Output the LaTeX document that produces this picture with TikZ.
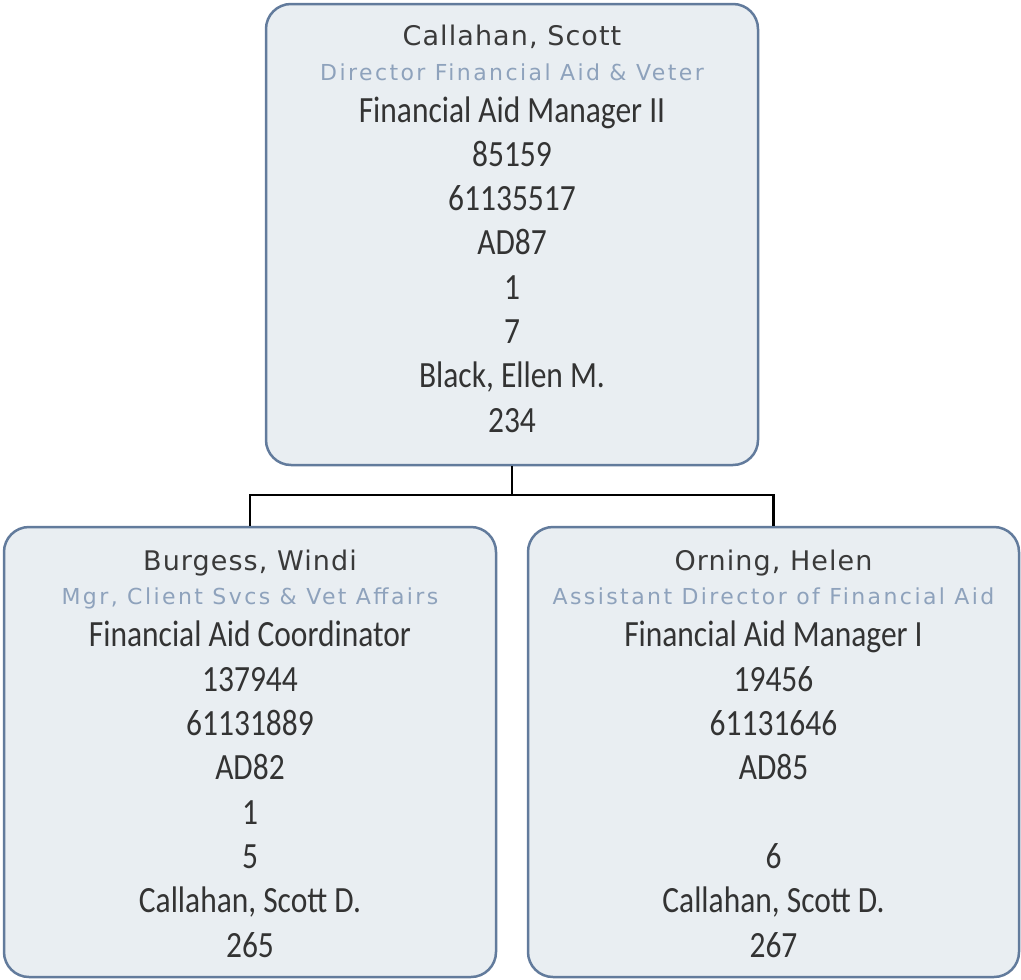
\documentclass[tikz,border=0pt]{standalone}
\usepackage{fontspec}
\setmainfont[FakeStretch=0.85]{Carlito}
\newfontfamily\namefont[LetterSpace=4]{DejaVu Sans}
\newfontfamily\titlefont[LetterSpace=11]{DejaVu Sans}
\definecolor{boxfill}{HTML}{E9EEF2}
\definecolor{boxline}{HTML}{627B9C}
\definecolor{namecol}{HTML}{3A3A3A}
\definecolor{titlecol}{HTML}{8EA2BC}
\definecolor{bodycol}{HTML}{333333}
\begin{document}
\begin{tikzpicture}[x=1pt,y=-1pt,
  card/.style={draw=boxline,fill=boxfill,line width=2.5pt,rounded corners=25pt,inner sep=0pt},
  nm/.style={anchor=base,inner sep=0pt,text=namecol,font=\namefont\fontsize{27}{31}\selectfont},
  ttl/.style={anchor=base,inner sep=0pt,text=titlecol,font=\titlefont\fontsize{22}{26}\selectfont},
  bd/.style={anchor=base,inner sep=0pt,text=bodycol,font=\fontsize{37}{42}\selectfont},
  link/.style={draw=black,line width=2.8pt}]
\useasboundingbox (0,0) rectangle (1021,980);
% boxes
\node[card,minimum width=492pt,minimum height=461pt] (top) at (512,234.5) {};
\node[card,minimum width=492pt,minimum height=450pt] (bl) at (250,752) {};
\node[card,minimum width=491pt,minimum height=450pt] (br) at (773.5,752) {};
% connectors
\coordinate (mid) at (512,495);
\draw[link] (top.south) -- (mid) -| (bl.north);
\draw[link] (mid) -| (br.north);
% top text
\node[nm] (t1) at (512,45) {Callahan, Scott};
\node[ttl] (t2) at (512,80) {Director Financial Aid \& Veter};
\node[bd] (t3) at (512,122) {Financial Aid Manager II};
\node[bd] (t4) at (512,166.3) {85159};
\node[bd] (t5) at (512,210.6) {61135517};
\node[bd] (t6) at (512,254.9) {AD87};
\node[bd] (t7) at (512,299.2) {1};
\node[bd] (t8) at (512,343.5) {7};
\node[bd] (t9) at (512,387.8) {Black, Ellen M.};
\node[bd] (t10) at (512,432.1) {234};
% left text
\node[nm] (l1) at (250,570) {Burgess, Windi};
\node[ttl] (l2) at (250,604) {Mgr, Client Svcs \& Vet Affairs};
\node[bd] (l3) at (250,646.9) {Financial Aid Coordinator};
\node[bd] (l4) at (250,691.2) {137944};
\node[bd] (l5) at (250,735.5) {61131889};
\node[bd] (l6) at (250,779.8) {AD82};
\node[bd] (l7) at (250,824.1) {1};
\node[bd] (l8) at (250,868.4) {5};
\node[bd] (l9) at (250,912.7) {Callahan, Scott D.};
\node[bd] (l10) at (250,957) {265};
% right text
\node[nm] (r1) at (773.5,570) {Orning, Helen};
\node[ttl] (r2) at (773.5,604) {Assistant Director of Financial Aid};
\node[bd] (r3) at (773.5,646.9) {Financial Aid Manager I};
\node[bd] (r4) at (773.5,691.2) {19456};
\node[bd] (r5) at (773.5,735.5) {61131646};
\node[bd] (r6) at (773.5,779.8) {AD85};
\node[bd] (r8) at (773.5,868.4) {6};
\node[bd] (r9) at (773.5,912.7) {Callahan, Scott D.};
\node[bd] (r10) at (773.5,957) {267};
\end{tikzpicture}
\end{document}
